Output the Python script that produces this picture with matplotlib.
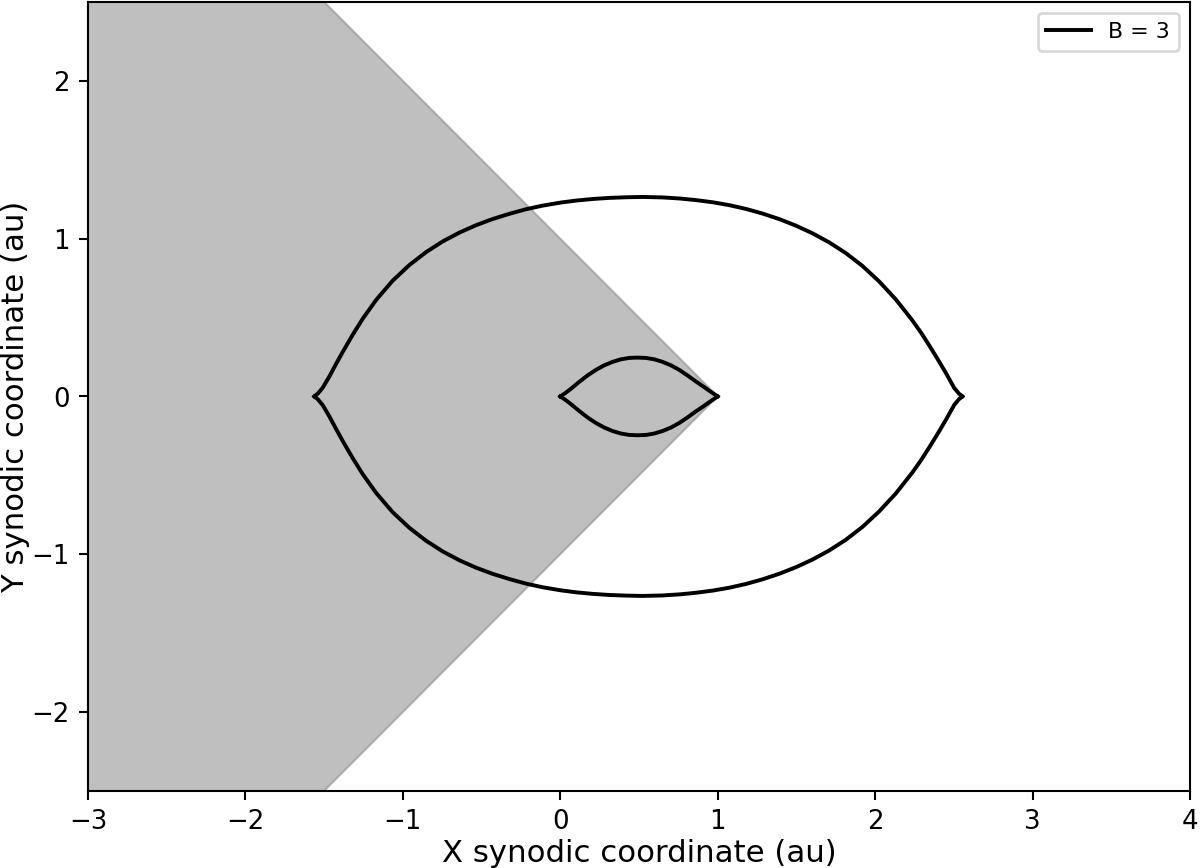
import numpy as np
import matplotlib.pyplot as plt

# upper half of the outer zero-velocity curve, left cusp -> right cusp
outer_x = [-1.562, -1.541, -1.509, -1.467, -1.424, -1.382, -1.319, -1.255, -1.170, -1.065,
           -0.959, -0.853, -0.747, -0.641, -0.535, -0.430, -0.324, -0.218, -0.112, 0.000,
           0.100, 0.205, 0.311, 0.420, 0.523, 0.650, 0.760, 0.862, 0.970, 1.073,
           1.180, 1.284, 1.390, 1.497, 1.605, 1.708, 1.814, 1.919, 2.025, 2.131,
           2.237, 2.290, 2.343, 2.396, 2.449, 2.502, 2.533, 2.554]
outer_y = [0.000, 0.017, 0.055, 0.126, 0.206, 0.282, 0.390, 0.492, 0.611, 0.733,
           0.832, 0.914, 0.982, 1.038, 1.085, 1.124, 1.157, 1.186, 1.209, 1.228,
           1.241, 1.251, 1.258, 1.262, 1.264, 1.261, 1.254, 1.244, 1.230, 1.212,
           1.188, 1.159, 1.124, 1.082, 1.032, 0.976, 0.908, 0.827, 0.729, 0.615,
           0.481, 0.406, 0.324, 0.238, 0.149, 0.054, 0.017, 0.000]

# upper half of the inner curve
inner_x = [0.000, 0.030, 0.068, 0.120, 0.173, 0.226, 0.279, 0.332, 0.385, 0.438,
           0.491, 0.544, 0.597, 0.650, 0.703, 0.756, 0.808, 0.861, 0.914, 0.960, 1.000]
inner_y = [0.000, 0.020, 0.049, 0.092, 0.133, 0.168, 0.197, 0.219, 0.235, 0.244,
           0.246, 0.244, 0.235, 0.219, 0.197, 0.168, 0.133, 0.095, 0.059, 0.027, 0.000]

# shaded wedge (excluded region)
wedge_x = [1.0, -1.5, -3.0, -3.0, -1.5]
wedge_y = [0.0, 2.5, 2.5, -2.5, -2.5]

label = "B = 3"

fig, ax = plt.subplots(figsize=(6.4, 4.63), dpi=187.5)
fig.subplots_adjust(left=0.0733, right=0.9917, top=0.9977, bottom=0.0887)

ax.fill(wedge_x, wedge_y, color="gray", alpha=0.5, lw=0.8)

ox, oy = np.array(outer_x), np.array(outer_y)
ix, iy = np.array(inner_x), np.array(inner_y)
kw = dict(color="black", lw=1.5, solid_joinstyle="round")
ax.plot(ox, oy, label=label, **kw)
ax.plot(ox, -oy, **kw)
ax.plot(ix, iy, **kw)
ax.plot(ix, -iy, **kw)

ax.set_xlim(-3, 4)
ax.set_ylim(-2.5, 2.5)
ax.set_xlabel("X synodic coordinate (au)", fontsize=11.8, labelpad=1.5)
ax.set_ylabel("Y synodic coordinate (au)", fontsize=11.8, labelpad=0.5)
ax.legend(loc="upper right", fontsize=8.5)

fig.savefig("out.png")
